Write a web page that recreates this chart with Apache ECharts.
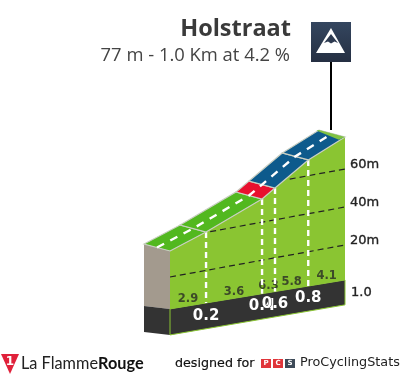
<!DOCTYPE html>
<html>
<head>
<meta charset="utf-8">
<style>html,body{margin:0;padding:0;background:#fff}#c{width:405px;height:380px}</style>
<script src="https://cdn.jsdelivr.net/npm/echarts@6/dist/echarts.min.js"></script>
</head>
<body>
<div id="c"></div>
<script>
// Data
const climbName = 'Holstraat';
const climbInfo = '77 m - 1.0 Km at 4.2 %';
const segmentKm = [0, 0.206, 0.526, 0.6, 0.79, 1.0];
const elevation = [33.7, 40.2, 52.2, 56.7, 68.3, 76.8];
const gradients = ['2.9', '3.6', '6.3', '5.8', '4.1'];
const kmLabels = ['0.2', '0.4', '0.6', '0.8'];
const totalKm = '1.0';
const gridElev = [20, 40, 60];
const roadColors = ['#52b81f', '#52b81f', '#e8102e', '#0d5a8c', '#0d5a8c'];

// Oblique projection, in axis units
const SHEAR = 16.84, DEPTH_KM = 26 / 175, DEPTH_V = 7 / 1.9;
const baseTop = km => 3.2 - 1.6 * km;
const baseBottom = km => -10.5 - 1.0 * km;
const proj = (km, e, depth) => [km - depth * DEPTH_KM, e - SHEAR * (1 - km) + depth * DEPTH_V];
const profile = km => {
  for (let i = 1; i < segmentKm.length; i++) {
    if (km <= segmentKm[i]) {
      const t = (km - segmentKm[i - 1]) / (segmentKm[i] - segmentKm[i - 1]);
      return elevation[i - 1] + t * (elevation[i] - elevation[i - 1]);
    }
  }
  return elevation[elevation.length - 1];
};
const crossing = e => {
  for (let i = 1; i < segmentKm.length; i++) {
    if (e <= elevation[i]) {
      if (e < elevation[i - 1]) return 0;
      return segmentKm[i - 1] + (e - elevation[i - 1]) / (elevation[i] - elevation[i - 1]) * (segmentKm[i] - segmentKm[i - 1]);
    }
  }
  return 1;
};
const FONT = '"DejaVu Sans", sans-serif';
const poly = (api, pts, style) => ({
  type: 'polygon',
  shape: { points: pts.map(p => api.coord(proj(p[0], p[1], p[2]))) },
  style
});
const dashLine = (api, a, b, style) => {
  const p = api.coord(proj(a[0], a[1], a[2])), q = api.coord(proj(b[0], b[1], b[2]));
  return { type: 'line', shape: { x1: p[0], y1: p[1], x2: q[0], y2: q[1] }, style };
};
const label = (api, km, e, depth, text, dx, dy, style) => {
  const p = api.coord(proj(km, e, depth));
  return { type: 'text', x: p[0] + dx, y: p[1] + dy, style: Object.assign({ text, fontFamily: FONT }, style) };
};
const custom = (data, renderItem, z) => ({
  type: 'custom', coordinateSystem: 'cartesian2d', clip: false, silent: true, z,
  data, renderItem, encode: { x: 0, y: 1 }
});

const last = segmentKm.length - 1;
const series = [
  // left side face and its base
  custom([[0, 0]], (p, api) => ({
    type: 'group',
    children: [
      poly(api, [[0, elevation[0], 1], [0, elevation[0], 0], [0, baseTop(0), 0], [0, baseTop(0) - 2.1, 1]], { fill: '#a39a8e' }),
      poly(api, [[0, baseTop(0) - 2.1, 1], [0, baseTop(0), 0], [0, baseBottom(0), 0], [0, baseBottom(0) - 2.1, 1]], { fill: '#333333' })
    ]
  }), 1),
  // front face
  custom([[0, 0]], (p, api) => {
    const top = segmentKm.map((k, i) => [k, elevation[i], 0]);
    const bottom = [[1, baseTop(1), 0], [0, baseTop(0), 0]];
    return poly(api, top.concat(bottom), { fill: '#8ac532' });
  }, 2),
  // base band
  custom([[0, 0]], (p, api) => poly(api,
    [[0, baseTop(0), 0], [1, baseTop(1), 0], [1, baseBottom(1), 0], [0, baseBottom(0), 0]],
    { fill: '#333333', stroke: '#8ac532', lineWidth: 1 }), 3),
  // elevation grid lines
  custom(gridElev.map(e => [e, e]), (p, api) => {
    const e = api.value(0);
    const startKm = e === gridElev[0] ? crossing(e) : crossing(e) + 0.03;
    return dashLine(api, [startKm, e, 0], [1, e, 0], { stroke: '#222', lineWidth: 1.2, lineDash: [6, 4] });
  }, 4),
  // gradient labels
  custom(gradients.map((g, i) => [i, i]), (p, api) => {
    const i = p.dataIndex;
    const km = (segmentKm[i] + segmentKm[i + 1]) / 2;
    return label(api, km, baseTop(km), 0, gradients[i], 0, -6.5, {
      fontSize: 11.5, fontWeight: 'bold', fill: '#3c4a28', align: 'center', verticalAlign: 'middle'
    });
  }, 5),
  // km dashes
  custom(kmLabels.map((k, i) => [i, i]), (p, api) => {
    const km = segmentKm[p.dataIndex + 1];
    return dashLine(api, [km, profile(km), 0], [km, baseTop(km), 0], { stroke: '#fff', lineWidth: 2.4, lineDash: [6, 4] });
  }, 6),
  // road segments
  custom(roadColors.map((c, i) => [i, i]), (p, api) => {
    const i = p.dataIndex;
    const a = segmentKm[i], b = segmentKm[i + 1];
    return poly(api, [[a, profile(a), 0], [b, profile(b), 0], [b, profile(b), 1], [a, profile(a), 1]],
      { fill: roadColors[i], stroke: '#c9cfc2', lineWidth: 1.2 });
  }, 7),
  // green cap at the top of the climb
  custom([[0, 0]], (p, api) => poly(api,
    [[1, elevation[last], 0], [1, elevation[last], 1], [0.985, profile(0.985) + 0.6, 1], [0.965, profile(0.965) + 0.6, 0]],
    { fill: '#7fc243' }), 8),
  // road centre line
  custom([[0, 0]], (p, api) => ({
    type: 'polyline',
    shape: { points: segmentKm.map((k, i) => api.coord(proj(k, elevation[i], 0.5))) },
    style: { fill: null, stroke: '#fff', lineWidth: 2.4, lineDash: [8, 7] }
  }), 9),
  // km labels on the band
  custom(kmLabels.map((k, i) => [i, i]), (p, api) => {
    const km = segmentKm[p.dataIndex + 1];
    return label(api, km, (baseTop(km) + baseBottom(km)) / 2, 0, kmLabels[p.dataIndex], 0, 0, {
      fontSize: 15, fontWeight: 'bold', fill: '#fff', align: 'center', verticalAlign: 'middle',
      stroke: '#333', lineWidth: 1
    });
  }, 10),
  // right-hand elevation labels
  custom(gridElev.map(e => [e, e]), (p, api) => label(api, 1, api.value(0), 0, api.value(0) + 'm', 5, -4, {
    fontSize: 13, fill: '#222', align: 'left', verticalAlign: 'middle', stroke: '#444', lineWidth: 0.4
  }), 10),
  custom([[0, 0]], (p, api) => label(api, 1, (baseTop(1) + baseBottom(1)) / 2, 0, totalKm, 6, 0, {
    fontSize: 13, fill: '#222', align: 'left', verticalAlign: 'middle', stroke: '#444', lineWidth: 0.4
  }), 10)
];

const chart = echarts.init(document.getElementById('c'), null, { renderer: 'canvas' });
chart.setOption({
  animation: false,
  backgroundColor: '#fff',
  title: [
    { text: climbName, left: 291, top: 17, padding: 0, textAlign: 'right',
      textStyle: { fontFamily: '"Open Sans", sans-serif', fontSize: 23.5, fontWeight: 'bold', color: '#3a3a3a' } },
    { text: climbInfo, left: 290, top: 47, padding: 0, textAlign: 'right',
      textStyle: { fontFamily: '"Open Sans", sans-serif', fontSize: 18.4, fontWeight: 'normal', color: '#444' } }
  ],
  grid: { left: 135, width: 245, top: 119.6, height: 220.4 },
  xAxis: { type: 'value', min: -0.2, max: 1.2, show: false },
  yAxis: { type: 'value', min: -30, max: 86, show: false },
  series,
  graphic: [
    { type: 'line', z: 20, shape: { x1: 331, y1: 62, x2: 331, y2: 130 }, style: { stroke: '#000', lineWidth: 2 } },
    { type: 'rect', z: 20, shape: { x: 311, y: 22, width: 40, height: 40 },
      style: { fill: new echarts.graphic.LinearGradient(0, 0, 0, 1, [{ offset: 0, color: '#34465f' }, { offset: 1, color: '#252f42' }]) } },
    { type: 'polygon', z: 21, shape: { points: [[331, 28], [345, 53], [316, 53]] }, style: { fill: '#fff' } },
    { type: 'polygon', z: 22, shape: { points: [[331, 34], [338, 43], [334.5, 41.5], [331, 43.5], [328, 41.5], [324, 43]] }, style: { fill: '#2d3a50' } },
    // footer left
    { type: 'polygon', z: 21, shape: { points: [[1, 354], [19, 354], [10, 374]] }, style: { fill: '#e0213a' } },
    { type: 'text', z: 22, x: 10, y: 362, style: { text: '1', fill: '#fff', fontFamily: FONT, fontSize: 12, fontWeight: 'bold', align: 'center', verticalAlign: 'middle' } },
    { type: 'text', z: 21, x: 21, y: 364, style: {
        text: '{a|La Flamme}{b|Rouge}', verticalAlign: 'middle',
        rich: {
          a: { fontFamily: 'Lato, sans-serif', fontSize: 16.3, fill: '#222', fontWeight: 'normal' },
          b: { fontFamily: 'Lato, sans-serif', fontSize: 16.3, fill: '#111', fontWeight: 'bold' }
        } } },
    // footer right
    { type: 'text', z: 21, x: 175, y: 364, style: { text: 'designed for', fontFamily: FONT, fontSize: 12.7, fill: '#111', verticalAlign: 'middle', stroke: '#111', lineWidth: 0.2 } },
    { type: 'rect', z: 21, shape: { x: 261, y: 359, width: 10, height: 9 }, style: { fill: '#e0353a' } },
    { type: 'rect', z: 21, shape: { x: 273, y: 359, width: 10, height: 9 }, style: { fill: '#e0353a' } },
    { type: 'rect', z: 21, shape: { x: 285, y: 359, width: 10, height: 9 }, style: { fill: '#3e4a58' } },
    { type: 'text', z: 22, x: 266, y: 363.5, style: { text: 'P', fill: '#fff', fontFamily: FONT, fontSize: 7, fontWeight: 'bold', align: 'center', verticalAlign: 'middle' } },
    { type: 'text', z: 22, x: 278, y: 363.5, style: { text: 'C', fill: '#fff', fontFamily: FONT, fontSize: 7, fontWeight: 'bold', align: 'center', verticalAlign: 'middle' } },
    { type: 'text', z: 22, x: 290, y: 363.5, style: { text: 'S', fill: '#fff', fontFamily: FONT, fontSize: 7, fontWeight: 'bold', align: 'center', verticalAlign: 'middle' } },
    { type: 'text', z: 21, x: 300, y: 363, style: { text: 'ProCyclingStats', fontFamily: FONT, fontSize: 12.8, fill: '#222', verticalAlign: 'middle' } }
  ]
});
</script>
</body>
</html>
